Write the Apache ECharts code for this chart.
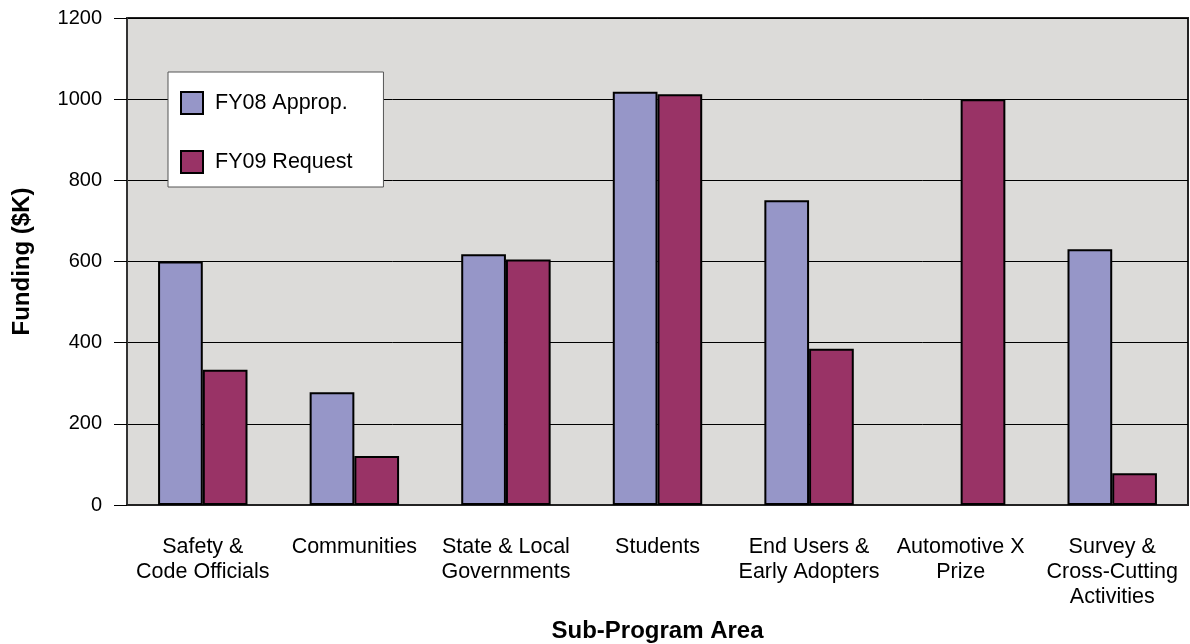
<!DOCTYPE html>
<html>
<head>
<meta charset="utf-8">
<script src="https://cdn.jsdelivr.net/npm/echarts@6/dist/echarts.min.js"></script>
<style>
  html, body { margin: 0; padding: 0; background: #fff; }
  #chart { width: 1190px; height: 644px; }
</style>
</head>
<body>
<div id="chart"></div>
<script>
// data
var categories = [
  'Safety &\nCode Officials',
  'Communities',
  'State & Local\nGovernments',
  'Students',
  'End Users &\nEarly Adopters',
  'Automotive X\nPrize',
  'Survey &\nCross-Cutting\nActivities'
];
var fy08Approp = [600, 278, 618, 1018, 751, null, 630];
var fy09Request = [333, 121, 605, 1012, 385, 1000, 78];
var yTicks = { min: 0, max: 1200, interval: 200 };

var font = "'Liberation Sans', Arial, sans-serif";

var myChart = echarts.init(document.getElementById('chart'));
myChart.setOption({
  animation: false,
  textStyle: { fontFamily: font, color: '#000' },
  grid: {
    left: 127, top: 18, right: 2, bottom: 139,
    outerBoundsMode: 'none',
    containLabel: false,
    show: true,
    backgroundColor: '#dcdbd9',
    borderColor: '#222',
    borderWidth: 2
  },
  legend: {
    orient: 'vertical',
    left: 168,
    top: 72,
    backgroundColor: '#fff',
    borderColor: '#555',
    borderWidth: 1,
    padding: [19, 31, 13, 12],
    itemWidth: 22,
    itemHeight: 22,
    itemGap: 35,
    icon: 'rect',
    textStyle: { fontFamily: font, fontSize: 21.5, color: '#000', padding: [0, 0, 0, 7] },
    data: ['FY08 Approp.', 'FY09 Request']
  },
  xAxis: {
    type: 'category',
    data: categories,
    name: 'Sub-Program Area',
    nameLocation: 'middle',
    nameGap: 114,
    nameTextStyle: { fontFamily: font, fontSize: 24, fontWeight: 'bold', color: '#000' },
    axisLine: { lineStyle: { color: '#222', width: 2 } },
    axisTick: { length: 10, lineStyle: { color: '#555', width: 1 } },
    axisLabel: {
      interval: 0,
      margin: 30,
      fontSize: 21.5,
      lineHeight: 25,
      color: '#000',
      fontFamily: font
    }
  },
  yAxis: {
    type: 'value',
    min: yTicks.min,
    max: yTicks.max,
    interval: yTicks.interval,
    name: 'Funding ($K)',
    nameLocation: 'middle',
    nameGap: 93,
    nameRotate: 90,
    nameTextStyle: { fontFamily: font, fontSize: 24, fontWeight: 'bold', color: '#000' },
    axisLine: { show: true, lineStyle: { color: '#333', width: 2 } },
    axisTick: { show: true, length: 13, lineStyle: { color: '#000', width: 1 } },
    axisLabel: {
      margin: 25, fontSize: 20, color: '#000', fontFamily: font,
      formatter: function (v) { return String(v); }
    },
    splitLine: { show: true, lineStyle: { color: '#000', width: 1 } }
  },
  series: [
    {
      name: 'FY08 Approp.',
      type: 'bar',
      data: fy08Approp,
      barGap: '0%',
      barCategoryGap: '41%',
      itemStyle: { color: '#9696c8', borderColor: '#000', borderWidth: 2 }
    },
    {
      name: 'FY09 Request',
      type: 'bar',
      data: fy09Request,
      barGap: '0%',
      barCategoryGap: '41%',
      itemStyle: { color: '#993366', borderColor: '#000', borderWidth: 2 }
    }
  ]
});
</script>
</body>
</html>
